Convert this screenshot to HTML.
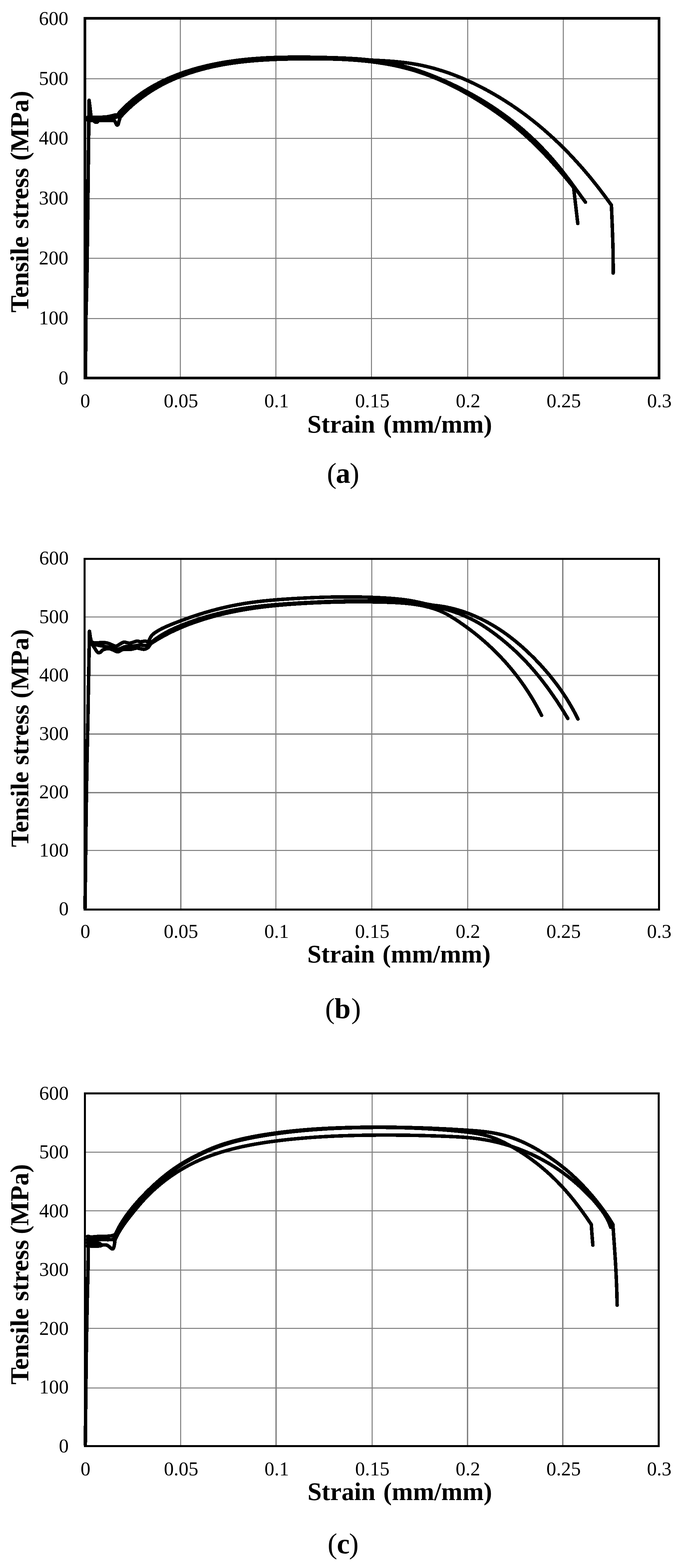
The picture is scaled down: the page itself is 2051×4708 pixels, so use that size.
<!DOCTYPE html>
<html lang="en"><head><meta charset="utf-8"><title>Tensile stress-strain curves</title>
<style>html,body{margin:0;padding:0;background:#fff}body{width:2051px;height:4708px;overflow:hidden}svg{display:block}text{font-family:"Liberation Serif", "Times New Roman", Times, serif;fill:#000}.t{font-size:59px}.b{font-weight:bold;font-size:78px}.g{stroke:#808080;fill:none;shape-rendering:crispEdges}.f{stroke:#000;fill:none;shape-rendering:crispEdges}.c{stroke:#000;fill:none;stroke-linejoin:round;stroke-linecap:round;shape-rendering:crispEdges}</style></head><body>
<svg width="2051" height="4708" viewBox="0 0 2051 4708">
<rect width="2051" height="4708" fill="#fff"/>
<g>
<path class="g" stroke-width="3" d="M541.5 55.0V1135.0M828.5 55.0V1135.0M1115.5 55.0V1135.0M1404.5 55.0V1135.0M1691.5 55.0V1135.0M255.0 236.5H1979.0M255.0 415.5H1979.0M255.0 596.5H1979.0M255.0 775.5H1979.0M255.0 956.5H1979.0"/>
<path class="c" stroke-width="10.5" d="M256.6 1131.0L258.2 949.0L261.1 831.0L262.9 690.0L264.7 544.0L267.5 301.0L270.0 320.0L273.5 352.0"/>
<path class="c" stroke-width="7" d="M263.0 560.0L264.5 420.0L265.8 304.0"/>
<path class="c" stroke-width="10.5" d="M264.0 352.0C270.0 352.0 290.7 352.2 300.0 352.0C309.3 351.8 314.2 351.7 320.0 351.0C325.8 350.3 330.8 348.9 335.0 348.0C339.2 347.1 342.2 346.0 345.0 345.5C347.8 345.0 350.8 345.1 352.0 345.0"/>
<path class="c" stroke-width="10.5" d="M264.0 357.0C270.0 357.0 289.0 357.2 300.0 357.0C311.0 356.8 322.5 356.2 330.0 355.5C337.5 354.8 341.0 353.9 345.0 353.0C349.0 352.1 352.5 350.5 354.0 350.0"/>
<path class="c" stroke-width="10.5" d="M264.0 361.5C266.7 361.6 276.3 361.2 280.0 362.0C283.7 362.8 284.0 365.8 286.0 366.5C288.0 367.2 290.0 367.2 292.0 366.5C294.0 365.8 293.3 362.8 298.0 362.0C302.7 361.2 313.8 362.1 320.0 362.0C326.2 361.9 331.2 361.5 335.0 361.5C338.8 361.5 341.0 360.9 343.0 362.0C345.0 363.1 345.8 366.0 347.0 368.0C348.2 370.0 349.1 372.8 350.0 374.0C350.9 375.2 351.7 375.7 352.5 375.5C353.3 375.3 354.1 375.2 355.0 373.0C355.9 370.8 357.0 365.5 358.0 362.0C359.0 358.5 360.5 353.7 361.0 352.0"/>
<path class="c" stroke-width="10.5" d="M356.5 340.0C359.0 337.4 366.4 329.3 371.6 324.1C376.8 319.0 382.2 314.0 387.7 309.1C393.2 304.3 398.9 299.6 404.7 295.0C410.5 290.5 416.5 286.1 422.6 281.8C428.6 277.6 434.8 273.4 441.1 269.5C447.4 265.5 453.8 261.7 460.2 258.1C466.7 254.4 473.2 250.9 479.9 247.6C486.5 244.2 493.1 241.0 499.9 237.9C506.6 234.8 513.4 231.9 520.2 229.1C527.1 226.3 534.0 223.6 540.9 221.1C547.9 218.6 554.8 216.1 561.9 213.9C568.9 211.6 575.9 209.4 583.0 207.3C590.1 205.3 597.2 203.3 604.4 201.5C611.5 199.6 618.7 197.9 625.9 196.3C633.1 194.6 640.3 193.1 647.5 191.7C654.7 190.2 662.0 188.9 669.2 187.7C676.5 186.4 683.8 185.2 691.1 184.2C698.4 183.1 705.7 182.1 713.0 181.2C720.3 180.3 727.7 179.4 735.0 178.7C742.4 177.9 749.7 177.2 757.1 176.6C764.5 176.0 771.9 175.4 779.3 174.9C786.7 174.4 794.1 174.0 801.5 173.6C808.9 173.3 816.3 173.0 823.7 172.7C831.1 172.4 838.6 172.2 846.0 172.0C853.4 171.9 860.9 171.8 868.3 171.7C875.8 171.6 883.2 171.5 890.7 171.5C898.1 171.5 905.5 171.5 913.0 171.6C920.4 171.6 927.9 171.7 935.3 171.8C942.8 171.9 950.2 172.1 957.6 172.2C965.1 172.4 972.5 172.5 979.9 172.7C987.4 172.9 994.8 173.1 1002.2 173.3C1009.6 173.5 1017.0 173.8 1024.4 174.1C1031.8 174.4 1039.2 174.7 1046.6 175.1C1053.9 175.5 1061.3 175.9 1068.7 176.4C1076.0 176.9 1083.4 177.5 1090.7 178.2C1098.0 178.8 1105.3 179.5 1112.6 180.4C1119.9 181.2 1127.2 182.1 1134.5 183.1C1141.7 184.1 1149.0 185.2 1156.2 186.5C1163.5 187.7 1170.7 189.0 1177.9 190.5C1185.0 192.0 1192.2 193.6 1199.4 195.3C1206.5 197.0 1213.6 198.9 1220.7 200.9C1227.8 202.9 1234.9 205.0 1242.0 207.2C1249.0 209.4 1256.0 211.8 1263.0 214.2C1270.0 216.6 1277.0 219.2 1284.0 221.8C1290.9 224.4 1297.8 227.1 1304.7 229.9C1311.6 232.7 1318.4 235.6 1325.3 238.5C1332.1 241.5 1338.9 244.5 1345.6 247.6C1352.4 250.6 1359.1 253.8 1365.8 257.0C1372.5 260.2 1379.1 263.5 1385.7 266.9C1392.3 270.3 1398.9 273.7 1405.4 277.2C1412.0 280.7 1418.5 284.3 1424.9 288.0C1431.3 291.6 1437.8 295.3 1444.1 299.1C1450.5 302.9 1456.8 306.8 1463.0 310.7C1469.3 314.7 1475.5 318.7 1481.7 322.8C1487.8 326.9 1493.9 331.0 1500.0 335.3C1506.1 339.5 1512.1 343.8 1518.0 348.2C1524.0 352.6 1529.9 357.0 1535.7 361.5C1541.6 366.1 1547.3 370.6 1553.1 375.3C1558.8 380.0 1564.5 384.7 1570.1 389.5C1575.7 394.4 1581.2 399.2 1586.7 404.2C1592.2 409.2 1597.6 414.2 1602.9 419.3C1608.3 424.4 1613.6 429.6 1618.8 434.8C1624.0 440.1 1629.1 445.4 1634.2 450.8C1639.3 456.2 1644.3 461.6 1649.3 467.1C1654.2 472.6 1659.1 478.2 1663.9 483.8C1668.7 489.4 1673.5 495.1 1678.2 500.8C1682.9 506.5 1687.5 512.3 1692.0 518.1C1696.6 523.9 1701.1 529.7 1705.5 535.6C1710.0 541.4 1714.3 547.3 1718.7 553.2C1723.1 559.2 1727.4 565.1 1731.8 571.1C1736.1 577.0 1740.5 583.0 1744.8 589.0C1749.2 595.0 1755.8 604.0 1758.0 607.0"/>
<path class="c" stroke-width="10.5" d="M357.0 342.0C359.7 339.6 367.8 332.2 373.3 327.4C378.8 322.7 384.5 317.9 390.2 313.3C395.9 308.7 401.6 304.2 407.5 299.7C413.4 295.3 419.3 291.0 425.4 286.7C431.4 282.5 437.5 278.4 443.7 274.4C449.9 270.4 456.2 266.6 462.5 262.9C468.9 259.1 475.3 255.6 481.9 252.1C488.4 248.7 495.0 245.4 501.6 242.2C508.3 239.1 515.0 236.1 521.8 233.2C528.6 230.3 535.4 227.6 542.3 224.9C549.2 222.3 556.1 219.8 563.1 217.5C570.0 215.1 577.0 212.9 584.1 210.7C591.1 208.6 598.2 206.6 605.3 204.7C612.3 202.8 619.4 201.1 626.5 199.4C633.7 197.7 640.8 196.2 647.9 194.7C655.1 193.3 662.3 191.9 669.4 190.6C676.6 189.4 683.8 188.2 691.0 187.2C698.2 186.1 705.4 185.1 712.7 184.2C719.9 183.3 727.2 182.5 734.4 181.7C741.7 181.0 749.0 180.3 756.3 179.7C763.5 179.1 770.8 178.5 778.1 178.1C785.5 177.6 792.8 177.2 800.1 176.8C807.4 176.5 814.8 176.2 822.1 175.9C829.5 175.7 836.8 175.5 844.2 175.3C851.6 175.1 858.9 175.0 866.3 174.9C873.7 174.8 881.1 174.8 888.5 174.8C895.9 174.7 903.3 174.7 910.7 174.8C918.1 174.8 925.5 174.9 932.9 174.9C940.3 175.0 947.8 175.1 955.2 175.2C962.6 175.3 970.0 175.5 977.5 175.6C984.9 175.8 992.3 176.0 999.7 176.1C1007.2 176.3 1014.6 176.5 1022.0 176.8C1029.4 177.0 1036.8 177.3 1044.2 177.5C1051.6 177.8 1059.0 178.1 1066.4 178.3C1073.8 178.6 1081.2 178.9 1088.6 179.3C1096.0 179.6 1103.3 179.9 1110.7 180.3C1118.1 180.6 1125.4 181.0 1132.7 181.4C1140.1 181.7 1147.4 182.1 1154.7 182.6C1162.0 183.1 1169.3 183.5 1176.6 184.1C1183.9 184.7 1191.1 185.3 1198.4 186.1C1205.6 186.8 1212.8 187.6 1220.0 188.6C1227.2 189.5 1234.4 190.5 1241.6 191.7C1248.7 192.9 1255.9 194.2 1263.0 195.6C1270.1 197.1 1277.2 198.7 1284.3 200.4C1291.3 202.1 1298.4 203.9 1305.4 205.9C1312.4 207.9 1319.4 210.0 1326.3 212.2C1333.3 214.4 1340.2 216.7 1347.1 219.1C1354.0 221.6 1360.9 224.1 1367.7 226.8C1374.5 229.4 1381.3 232.2 1388.1 235.0C1394.9 237.9 1401.6 240.9 1408.3 243.9C1415.0 247.0 1421.6 250.1 1428.3 253.3C1434.9 256.6 1441.5 259.9 1448.0 263.3C1454.6 266.7 1461.1 270.2 1467.5 273.7C1474.0 277.3 1480.4 280.9 1486.8 284.7C1493.2 288.4 1499.5 292.2 1505.8 296.0C1512.1 299.9 1518.3 303.9 1524.5 307.9C1530.7 311.9 1536.9 316.0 1543.0 320.2C1549.1 324.3 1555.1 328.5 1561.1 332.8C1567.1 337.1 1573.1 341.5 1579.0 345.9C1584.9 350.3 1590.7 354.8 1596.5 359.4C1602.3 363.9 1608.1 368.5 1613.8 373.2C1619.4 377.8 1625.1 382.6 1630.7 387.3C1636.2 392.1 1641.7 396.9 1647.2 401.8C1652.7 406.7 1658.1 411.6 1663.5 416.6C1668.8 421.6 1674.1 426.6 1679.4 431.7C1684.6 436.8 1689.8 441.9 1695.0 447.1C1700.2 452.3 1705.3 457.5 1710.3 462.8C1715.4 468.1 1720.4 473.4 1725.3 478.8C1730.3 484.2 1735.2 489.6 1740.1 495.1C1745.0 500.5 1749.8 506.0 1754.6 511.6C1759.3 517.2 1764.1 522.8 1768.8 528.4C1773.5 534.0 1778.1 539.7 1782.7 545.4C1787.3 551.2 1791.9 556.9 1796.4 562.7C1800.9 568.5 1805.4 574.4 1809.8 580.3C1814.3 586.1 1818.7 592.1 1823.0 598.0C1827.4 604.0 1833.8 613.0 1836.0 616.0C1836.5 627.5 1838.0 661.6 1838.8 685.0C1839.6 708.4 1840.6 734.0 1841.0 756.5C1841.4 779.0 1841.2 809.4 1841.3 820.0"/>
<path class="c" stroke-width="10.5" d="M361.0 352.0C363.6 349.3 371.1 341.1 376.3 335.8C381.6 330.5 386.9 325.4 392.4 320.4C397.9 315.4 403.6 310.6 409.3 305.9C415.0 301.2 420.9 296.6 426.8 292.2C432.8 287.8 438.9 283.5 445.0 279.3C451.2 275.2 457.4 271.2 463.8 267.4C470.1 263.6 476.5 259.9 483.0 256.4C489.5 252.9 496.1 249.5 502.8 246.3C509.4 243.1 516.2 240.0 523.0 237.0C529.7 234.1 536.6 231.3 543.5 228.6C550.4 226.0 557.3 223.4 564.3 221.0C571.3 218.6 578.4 216.4 585.4 214.2C592.5 212.0 599.6 210.0 606.8 208.1C613.9 206.2 621.1 204.4 628.2 202.7C635.4 201.0 642.6 199.4 649.9 197.9C657.1 196.5 664.3 195.1 671.6 193.8C678.9 192.5 686.2 191.3 693.5 190.2C700.8 189.1 708.1 188.1 715.4 187.2C722.8 186.3 730.1 185.4 737.5 184.6C744.9 183.9 752.3 183.2 759.7 182.5C767.1 181.9 774.5 181.3 781.9 180.8C789.3 180.3 796.8 179.9 804.2 179.5C811.6 179.1 819.1 178.7 826.5 178.4C834.0 178.1 841.5 177.9 848.9 177.6C856.4 177.4 863.9 177.3 871.3 177.1C878.8 177.0 886.3 176.8 893.8 176.7C901.2 176.6 908.7 176.6 916.2 176.5C923.7 176.5 931.2 176.4 938.6 176.4C946.1 176.5 953.6 176.5 961.0 176.5C968.5 176.6 976.0 176.7 983.4 176.9C990.9 177.0 998.3 177.2 1005.8 177.4C1013.2 177.7 1020.7 178.0 1028.1 178.3C1035.5 178.7 1042.9 179.1 1050.3 179.5C1057.7 180.0 1065.1 180.5 1072.5 181.1C1079.9 181.7 1087.2 182.4 1094.6 183.1C1101.9 183.9 1109.3 184.7 1116.6 185.6C1123.9 186.5 1131.2 187.5 1138.5 188.6C1145.7 189.6 1153.0 190.8 1160.2 192.1C1167.5 193.3 1174.7 194.7 1181.9 196.2C1189.1 197.6 1196.2 199.2 1203.4 200.9C1210.5 202.6 1217.6 204.3 1224.7 206.3C1231.8 208.2 1238.9 210.2 1245.9 212.3C1252.9 214.5 1259.9 216.8 1266.9 219.1C1273.9 221.5 1280.8 224.1 1287.8 226.7C1294.7 229.3 1301.5 232.0 1308.4 234.9C1315.2 237.7 1322.0 240.6 1328.8 243.7C1335.6 246.7 1342.3 249.8 1349.0 253.0C1355.7 256.3 1362.4 259.6 1369.0 263.0C1375.7 266.4 1382.2 269.9 1388.8 273.6C1395.3 277.2 1401.8 280.9 1408.3 284.6C1414.8 288.4 1421.2 292.3 1427.6 296.1C1433.9 300.0 1440.3 304.0 1446.6 307.9C1452.8 311.9 1459.1 315.9 1465.3 320.0C1471.5 324.1 1477.6 328.2 1483.7 332.4C1489.8 336.6 1495.8 340.9 1501.8 345.2C1507.8 349.5 1513.8 353.9 1519.7 358.4C1525.5 362.9 1531.4 367.4 1537.2 372.0C1542.9 376.7 1548.7 381.4 1554.3 386.2C1560.0 391.0 1565.6 395.8 1571.2 400.7C1576.7 405.7 1582.2 410.7 1587.7 415.7C1593.1 420.7 1598.5 425.8 1603.8 431.0C1609.1 436.1 1614.4 441.3 1619.6 446.6C1624.8 451.8 1630.0 457.1 1635.1 462.5C1640.2 467.8 1645.3 473.2 1650.3 478.6C1655.3 484.1 1660.3 489.6 1665.2 495.1C1670.1 500.6 1675.0 506.1 1679.8 511.7C1684.7 517.3 1689.5 523.0 1694.3 528.6C1699.0 534.3 1703.8 540.0 1708.5 545.7C1713.2 551.4 1720.2 560.1 1722.5 563.0L1735.0 671.0"/>
<rect class="f" x="255.0" y="55.0" width="1724.0" height="1080.0" stroke-width="8"/>
<text class="t" x="205.2" y="74.7" text-anchor="end">600</text>
<text class="t" x="205.2" y="254.5" text-anchor="end">500</text>
<text class="t" x="205.2" y="434.3" text-anchor="end">400</text>
<text class="t" x="205.2" y="614.1" text-anchor="end">300</text>
<text class="t" x="205.2" y="793.9" text-anchor="end">200</text>
<text class="t" x="205.2" y="973.7" text-anchor="end">100</text>
<text class="t" x="205.2" y="1153.5" text-anchor="end">0</text>
<text class="t" x="256.0" y="1222.8" text-anchor="middle">0</text>
<text class="t" x="543.4" y="1222.8" text-anchor="middle">0.05</text>
<text class="t" x="830.7" y="1222.8" text-anchor="middle">0.1</text>
<text class="t" x="1118.1" y="1222.8" text-anchor="middle">0.15</text>
<text class="t" x="1405.5" y="1222.8" text-anchor="middle">0.2</text>
<text class="t" x="1692.8" y="1222.8" text-anchor="middle">0.25</text>
<text class="t" x="1980.2" y="1222.8" text-anchor="middle">0.3</text>
<text class="b" y="1299.4" style="font-size:76.4px"><tspan x="922.8">Strain </tspan><tspan x="1151.1">(mm/mm)</tspan></text>
<text class="b" transform="translate(84.5 0) rotate(-90)" y="0" style="font-size:77.2px"><tspan x="-938.5">Tensile </tspan><tspan x="-687.1">stress </tspan><tspan x="-482.6">(MPa)</tspan></text>
<text y="1450.1" style="font-size:87px"><tspan x="981.7">(</tspan><tspan x="1008.6" style="font-weight:bold">a</tspan><tspan x="1050.0">)</tspan></text>
</g>
<g>
<path class="g" stroke-width="3" d="M828.5 1677.5V2731.0M1116.5 1677.5V2731.0M1404.5 1677.5V2731.0M254.0 1852.5H1979.0M254.0 2553.5H1979.0"/>
<path class="g" stroke-width="4" d="M543.0 1677.5V2731.0M1690.0 1677.5V2731.0M254.0 2028.0H1979.0M254.0 2204.0H1979.0M254.0 2380.0H1979.0"/>
<path class="c" stroke-width="10.5" d="M255.3 2727.0L257.0 2590.0L258.7 2445.0L260.8 2310.0L263.8 2170.0L265.9 2050.0L268.7 1895.5L271.0 1912.0L274.0 1926.0"/>
<path class="c" stroke-width="10.5" d="M270.0 1925.0C272.1 1925.8 274.6 1929.2 282.8 1930.0C291.0 1930.8 308.3 1928.3 319.0 1930.0C329.7 1931.7 340.2 1939.3 347.0 1940.0C353.8 1940.7 355.7 1936.0 360.0 1934.0C364.3 1932.0 367.7 1928.5 372.6 1928.0C377.6 1927.5 383.3 1931.5 389.7 1931.0C396.1 1930.5 405.6 1925.7 411.0 1925.0C416.4 1924.3 417.5 1927.0 421.8 1927.0C426.1 1927.0 433.3 1924.8 436.8 1925.0C440.3 1925.2 441.6 1927.7 443.0 1928.0C444.4 1928.3 445.1 1927.2 445.5 1927.0"/>
<path class="c" stroke-width="10.5" d="M270.0 1925.0C272.2 1928.2 279.1 1938.3 283.0 1944.0C286.9 1949.7 290.3 1956.7 293.5 1959.0C296.7 1961.3 299.1 1959.4 302.0 1958.0C304.9 1956.6 305.9 1952.2 310.6 1950.5C315.3 1948.8 322.9 1946.9 330.0 1948.0C337.1 1949.1 346.7 1956.6 353.0 1957.0C359.3 1957.4 361.2 1951.8 368.0 1950.5C374.8 1949.2 386.8 1950.2 394.0 1949.5C401.2 1948.8 404.6 1946.0 411.0 1946.0C417.4 1946.0 426.8 1949.8 432.5 1949.5C438.2 1949.2 441.7 1946.8 445.0 1944.0C448.3 1941.2 451.1 1934.8 452.3 1933.0"/>
<path class="c" stroke-width="10.5" d="M270.0 1925.0C272.5 1926.7 278.3 1932.5 285.0 1935.0C291.7 1937.5 301.7 1938.3 310.0 1940.0C318.3 1941.7 327.8 1943.3 335.0 1945.0C342.2 1946.7 346.3 1950.5 353.0 1950.0C359.7 1949.5 367.2 1943.7 375.0 1942.0C382.8 1940.3 392.5 1940.8 400.0 1940.0C407.5 1939.2 413.3 1937.3 420.0 1937.0C426.7 1936.7 434.6 1939.2 440.0 1938.0C445.4 1936.8 450.2 1931.3 452.3 1930.0"/>
<path class="c" stroke-width="10.5" d="M445.5 1927.0C447.2 1923.8 451.4 1913.0 455.9 1907.7C460.4 1902.4 466.5 1898.9 472.5 1895.1C478.4 1891.3 485.1 1888.0 491.7 1884.8C498.3 1881.6 505.4 1878.7 512.3 1875.8C519.3 1873.0 526.4 1870.2 533.4 1867.5C540.4 1864.8 547.4 1862.2 554.4 1859.7C561.4 1857.1 568.4 1854.6 575.5 1852.2C582.5 1849.8 589.6 1847.5 596.6 1845.2C603.7 1843.0 610.7 1840.8 617.8 1838.7C624.9 1836.6 632.0 1834.6 639.1 1832.6C646.3 1830.7 653.4 1828.9 660.6 1827.1C667.7 1825.3 674.9 1823.6 682.1 1822.0C689.3 1820.4 696.5 1818.9 703.8 1817.5C711.0 1816.1 718.2 1814.7 725.5 1813.5C732.7 1812.2 740.0 1811.1 747.3 1810.0C754.6 1808.9 761.9 1808.0 769.2 1807.1C776.5 1806.1 783.8 1805.3 791.2 1804.5C798.5 1803.8 805.9 1803.0 813.2 1802.4C820.6 1801.7 827.9 1801.1 835.3 1800.5C842.7 1800.0 850.1 1799.4 857.5 1798.9C864.8 1798.4 872.2 1798.0 879.6 1797.5C887.0 1797.0 894.4 1796.6 901.9 1796.2C909.3 1795.8 916.7 1795.4 924.1 1795.1C931.5 1794.8 938.9 1794.4 946.4 1794.2C953.8 1793.9 961.2 1793.6 968.6 1793.4C976.1 1793.2 983.5 1793.0 990.9 1792.8C998.3 1792.7 1005.8 1792.5 1013.2 1792.4C1020.6 1792.4 1028.0 1792.3 1035.5 1792.3C1042.9 1792.3 1050.3 1792.3 1057.7 1792.3C1065.1 1792.4 1072.5 1792.5 1079.9 1792.6C1087.3 1792.8 1094.7 1792.9 1102.1 1793.2C1109.5 1793.4 1116.9 1793.6 1124.3 1793.9C1131.7 1794.3 1139.0 1794.6 1146.4 1795.0C1153.8 1795.4 1161.1 1795.8 1168.4 1796.3C1175.8 1796.8 1183.1 1797.4 1190.4 1798.1C1197.8 1798.8 1205.1 1799.5 1212.4 1800.5C1219.7 1801.4 1227.0 1802.4 1234.3 1803.7C1241.6 1805.0 1248.9 1806.5 1256.2 1808.1C1263.4 1809.6 1270.7 1811.5 1278.0 1813.0C1285.3 1814.5 1292.5 1815.9 1299.8 1817.1C1307.1 1818.2 1314.3 1818.7 1321.6 1819.8C1328.8 1820.8 1336.1 1822.0 1343.3 1823.5C1350.5 1825.0 1357.8 1826.7 1364.9 1828.6C1372.1 1830.5 1379.2 1832.6 1386.3 1834.9C1393.4 1837.2 1400.4 1839.7 1407.4 1842.3C1414.3 1845.0 1421.2 1847.8 1428.0 1850.8C1434.8 1853.8 1441.5 1857.0 1448.1 1860.3C1454.8 1863.5 1461.3 1867.0 1467.7 1870.6C1474.2 1874.1 1480.6 1877.8 1486.8 1881.7C1493.1 1885.5 1499.3 1889.5 1505.4 1893.6C1511.5 1897.7 1517.6 1902.0 1523.5 1906.3C1529.5 1910.7 1535.3 1915.2 1541.1 1919.8C1546.9 1924.3 1552.6 1929.0 1558.2 1933.8C1563.9 1938.6 1569.4 1943.5 1574.9 1948.5C1580.4 1953.4 1585.8 1958.5 1591.1 1963.7C1596.4 1968.8 1601.7 1974.0 1606.9 1979.3C1612.0 1984.6 1617.1 1990.0 1622.2 1995.4C1627.2 2000.9 1632.1 2006.4 1637.0 2012.0C1641.9 2017.5 1646.7 2023.2 1651.4 2028.9C1656.1 2034.6 1660.7 2040.4 1665.2 2046.3C1669.7 2052.1 1674.2 2058.0 1678.5 2064.0C1682.8 2070.0 1687.1 2076.1 1691.2 2082.2C1695.3 2088.3 1699.4 2094.5 1703.3 2100.8C1707.2 2107.1 1711.0 2113.4 1714.7 2119.8C1718.4 2126.2 1722.0 2132.7 1725.5 2139.2C1728.9 2145.7 1733.8 2155.7 1735.5 2159.0"/>
<path class="c" stroke-width="10.5" d="M452.3 1933.0C455.4 1931.0 464.8 1925.0 471.1 1921.1C477.5 1917.3 484.0 1913.6 490.5 1910.0C497.0 1906.5 503.6 1903.1 510.2 1899.7C516.9 1896.4 523.6 1893.2 530.3 1890.2C537.1 1887.1 544.0 1884.1 550.8 1881.3C557.7 1878.5 564.7 1875.7 571.6 1873.1C578.6 1870.5 585.6 1868.0 592.7 1865.6C599.7 1863.2 606.9 1860.9 614.0 1858.7C621.1 1856.5 628.3 1854.4 635.5 1852.4C642.6 1850.4 649.9 1848.5 657.1 1846.6C664.3 1844.8 671.6 1843.1 678.8 1841.4C686.1 1839.8 693.3 1838.2 700.6 1836.8C707.9 1835.3 715.2 1833.9 722.5 1832.6C729.8 1831.2 737.1 1830.0 744.4 1828.8C751.7 1827.7 759.0 1826.5 766.4 1825.5C773.7 1824.5 781.0 1823.5 788.4 1822.6C795.7 1821.6 803.1 1820.8 810.5 1820.0C817.8 1819.2 825.2 1818.4 832.6 1817.7C840.0 1817.0 847.4 1816.4 854.8 1815.8C862.2 1815.1 869.6 1814.6 877.0 1814.0C884.4 1813.5 891.8 1813.0 899.2 1812.6C906.6 1812.1 914.0 1811.7 921.5 1811.3C928.9 1810.9 936.3 1810.5 943.8 1810.1C951.2 1809.8 958.7 1809.5 966.1 1809.2C973.6 1808.9 981.0 1808.6 988.5 1808.4C995.9 1808.1 1003.4 1807.9 1010.8 1807.7C1018.3 1807.6 1025.8 1807.4 1033.2 1807.3C1040.7 1807.2 1048.2 1807.1 1055.6 1807.0C1063.1 1807.0 1070.6 1806.9 1078.0 1806.9C1085.5 1806.9 1093.0 1807.0 1100.5 1807.0C1107.9 1807.1 1115.4 1807.2 1122.9 1807.3C1130.4 1807.4 1137.9 1807.6 1145.3 1807.8C1152.8 1808.0 1160.3 1808.2 1167.8 1808.4C1175.2 1808.7 1182.7 1809.0 1190.1 1809.4C1197.6 1809.9 1205.0 1810.3 1212.4 1810.9C1219.8 1811.6 1227.1 1812.3 1234.5 1813.2C1241.8 1814.1 1249.0 1815.1 1256.2 1816.4C1263.4 1817.6 1270.6 1819.0 1277.7 1820.7C1284.8 1822.3 1291.8 1824.1 1298.7 1826.3C1305.6 1828.4 1312.5 1830.8 1319.2 1833.5C1326.0 1836.3 1332.7 1839.4 1339.3 1842.8C1345.9 1846.3 1352.4 1850.3 1358.8 1854.2C1365.3 1858.2 1371.6 1862.5 1377.9 1866.7C1384.2 1870.9 1390.4 1875.3 1396.5 1879.6C1402.6 1884.0 1408.7 1888.5 1414.6 1893.1C1420.6 1897.6 1426.5 1902.2 1432.3 1906.9C1438.1 1911.6 1443.8 1916.4 1449.4 1921.3C1455.1 1926.1 1460.6 1931.1 1466.1 1936.1C1471.6 1941.1 1477.0 1946.2 1482.3 1951.3C1487.6 1956.5 1492.9 1961.7 1498.0 1967.0C1503.1 1972.3 1508.2 1977.7 1513.2 1983.1C1518.2 1988.6 1523.0 1994.1 1527.9 1999.7C1532.7 2005.3 1537.4 2011.0 1542.0 2016.7C1546.6 2022.5 1551.2 2028.3 1555.7 2034.2C1560.1 2040.1 1564.5 2046.1 1568.8 2052.1C1573.1 2058.1 1577.3 2064.2 1581.4 2070.4C1585.5 2076.6 1589.5 2082.9 1593.4 2089.2C1597.3 2095.5 1601.2 2101.9 1604.9 2108.4C1608.7 2114.8 1612.3 2121.4 1615.9 2128.0C1619.4 2134.6 1624.6 2144.7 1626.3 2148.0"/>
<path class="c" stroke-width="10.5" d="M452.3 1930.0C455.3 1927.7 464.2 1920.7 470.3 1916.4C476.4 1912.2 482.6 1908.2 488.9 1904.5C495.2 1900.8 501.6 1897.3 508.1 1894.0C514.6 1890.7 521.2 1887.7 527.9 1884.7C534.5 1881.8 541.2 1879.0 548.0 1876.3C554.8 1873.6 561.7 1871.1 568.6 1868.6C575.5 1866.1 582.5 1863.6 589.5 1861.3C596.6 1859.0 603.6 1856.7 610.7 1854.6C617.8 1852.4 625.0 1850.3 632.2 1848.3C639.3 1846.3 646.5 1844.4 653.7 1842.6C660.9 1840.8 668.2 1839.1 675.4 1837.5C682.6 1835.9 689.9 1834.3 697.1 1832.9C704.4 1831.5 711.6 1830.2 718.9 1828.9C726.1 1827.6 733.4 1826.5 740.7 1825.4C747.9 1824.3 755.2 1823.3 762.5 1822.3C769.7 1821.4 777.0 1820.5 784.3 1819.7C791.6 1818.8 798.9 1818.1 806.1 1817.4C813.4 1816.7 820.7 1816.0 828.0 1815.4C835.3 1814.8 842.6 1814.2 849.9 1813.7C857.2 1813.1 864.5 1812.6 871.9 1812.2C879.2 1811.7 886.5 1811.2 893.8 1810.8C901.1 1810.4 908.5 1810.0 915.8 1809.6C923.1 1809.2 930.5 1808.8 937.8 1808.5C945.2 1808.1 952.5 1807.7 959.8 1807.4C967.2 1807.1 974.5 1806.7 981.9 1806.4C989.3 1806.1 996.6 1805.9 1004.0 1805.6C1011.4 1805.4 1018.7 1805.1 1026.1 1804.9C1033.5 1804.7 1040.9 1804.6 1048.2 1804.4C1055.6 1804.3 1063.0 1804.2 1070.4 1804.1C1077.8 1804.1 1085.2 1804.0 1092.6 1804.0C1100.0 1804.0 1107.4 1804.1 1114.8 1804.2C1122.2 1804.3 1129.6 1804.4 1137.0 1804.6C1144.5 1804.8 1151.9 1805.0 1159.3 1805.3C1166.7 1805.6 1174.2 1805.9 1181.6 1806.3C1189.0 1806.7 1196.4 1807.2 1203.8 1807.7C1211.2 1808.2 1218.6 1808.9 1226.0 1809.6C1233.4 1810.3 1240.8 1811.1 1248.1 1812.0C1255.4 1812.9 1262.8 1813.9 1270.0 1815.0C1277.3 1816.1 1284.6 1817.3 1291.8 1818.7C1299.0 1820.0 1306.2 1821.5 1313.3 1823.1C1320.5 1824.8 1327.6 1826.5 1334.6 1828.4C1341.6 1830.3 1348.6 1832.4 1355.6 1834.6C1362.5 1836.8 1369.4 1839.2 1376.2 1841.7C1383.0 1844.3 1389.8 1847.0 1396.4 1849.9C1403.1 1852.8 1409.7 1855.9 1416.2 1859.2C1422.8 1862.4 1429.2 1865.9 1435.6 1869.6C1442.0 1873.3 1448.3 1877.2 1454.5 1881.2C1460.7 1885.2 1466.8 1889.5 1472.9 1893.8C1478.9 1898.1 1484.9 1902.5 1490.8 1907.0C1496.7 1911.5 1502.5 1916.1 1508.2 1920.7C1513.9 1925.4 1519.6 1930.1 1525.2 1934.9C1530.7 1939.7 1536.2 1944.5 1541.7 1949.5C1547.1 1954.5 1552.4 1959.5 1557.7 1964.6C1563.0 1969.7 1568.2 1974.9 1573.3 1980.2C1578.4 1985.5 1583.5 1990.9 1588.4 1996.4C1593.4 2001.8 1598.3 2007.4 1603.1 2013.0C1608.0 2018.7 1612.7 2024.4 1617.4 2030.1C1622.1 2035.9 1626.7 2041.7 1631.2 2047.6C1635.7 2053.5 1640.2 2059.4 1644.6 2065.4C1649.0 2071.4 1653.3 2077.5 1657.5 2083.5C1661.8 2089.6 1666.0 2095.7 1670.1 2101.8C1674.2 2107.9 1678.2 2114.1 1682.2 2120.3C1686.2 2126.4 1690.1 2132.6 1693.9 2138.8C1697.7 2145.0 1703.3 2154.3 1705.2 2157.4"/>
<rect class="f" x="254.0" y="1677.5" width="1725.0" height="1053.5" stroke-width="6"/>
<text class="t" x="206.2" y="1695.4" text-anchor="end">600</text>
<text class="t" x="206.2" y="1870.8" text-anchor="end">500</text>
<text class="t" x="206.2" y="2046.2" text-anchor="end">400</text>
<text class="t" x="206.2" y="2221.6" text-anchor="end">300</text>
<text class="t" x="206.2" y="2397.0" text-anchor="end">200</text>
<text class="t" x="206.2" y="2572.4" text-anchor="end">100</text>
<text class="t" x="206.2" y="2747.8" text-anchor="end">0</text>
<text class="t" x="256.2" y="2815.5" text-anchor="middle">0</text>
<text class="t" x="543.4" y="2815.5" text-anchor="middle">0.05</text>
<text class="t" x="830.6" y="2815.5" text-anchor="middle">0.1</text>
<text class="t" x="1117.8" y="2815.5" text-anchor="middle">0.15</text>
<text class="t" x="1405.1" y="2815.5" text-anchor="middle">0.2</text>
<text class="t" x="1692.3" y="2815.5" text-anchor="middle">0.25</text>
<text class="t" x="1979.5" y="2815.5" text-anchor="middle">0.3</text>
<text class="b" y="2889.6" style="font-size:76.0px"><tspan x="922.8">Strain </tspan><tspan x="1148.4">(mm/mm)</tspan></text>
<text class="b" transform="translate(84.5 0) rotate(-90)" y="0" style="font-size:76.5px"><tspan x="-2543.6">Tensile </tspan><tspan x="-2297.0">stress </tspan><tspan x="-2097.0">(MPa)</tspan></text>
<text y="3056.8" style="font-size:87px"><tspan x="976.2">(</tspan><tspan x="1004.6" style="font-weight:bold">b</tspan><tspan x="1054.8">)</tspan></text>
</g>
<g>
<path class="g" stroke-width="3" d="M542.5 3283.0V4342.0M1117.5 3283.0V4342.0M255.0 3459.5H1978.0M255.0 3635.5H1978.0M255.0 3813.5H1978.0M255.0 3988.5H1978.0M255.0 4167.5H1978.0"/>
<path class="g" stroke-width="4" d="M829.0 3283.0V4342.0M1404.0 3283.0V4342.0M1690.0 3283.0V4342.0"/>
<path class="c" stroke-width="10.5" d="M256.2 4338.0L257.8 4177.0L259.6 4033.0L262.2 3900.0L264.7 3795.0L265.3 3712.0"/>
<path class="c" stroke-width="10.5" d="M262.0 3712.7C264.2 3712.9 269.5 3714.0 275.0 3714.0C280.5 3714.0 287.5 3712.8 295.0 3712.5C302.5 3712.2 313.3 3712.3 320.0 3712.0C326.7 3711.7 331.2 3711.2 335.0 3710.5C338.8 3709.8 341.7 3708.4 343.0 3708.0"/>
<path class="c" stroke-width="10.5" d="M262.0 3722.0C268.3 3722.0 287.8 3722.0 300.0 3722.0C312.2 3722.0 327.8 3722.7 335.0 3722.0C342.2 3721.3 341.7 3718.7 343.0 3718.0"/>
<path class="c" stroke-width="10.5" d="M262.0 3731.0C265.8 3731.2 279.0 3731.7 285.0 3732.0C291.0 3732.3 294.7 3732.0 298.0 3733.0C301.3 3734.0 303.8 3737.2 305.0 3738.0"/>
<path class="c" stroke-width="10.5" d="M262.0 3741.0C265.8 3741.1 278.7 3741.5 285.0 3741.5C291.3 3741.5 295.8 3741.6 300.0 3741.0C304.2 3740.4 306.3 3738.3 310.0 3738.0C313.7 3737.7 318.7 3737.8 322.0 3739.0C325.3 3740.2 327.5 3743.2 330.0 3745.0C332.5 3746.8 335.2 3749.7 337.0 3750.0C338.8 3750.3 339.8 3749.5 341.0 3747.0C342.2 3744.5 343.3 3739.2 344.0 3735.0C344.7 3730.8 344.8 3724.2 345.0 3722.0"/>
<path class="c" stroke-width="10.5" d="M343.0 3714.0C344.5 3710.6 349.0 3700.4 352.3 3693.8C355.6 3687.2 359.2 3680.8 362.9 3674.6C366.7 3668.3 370.6 3662.2 374.8 3656.2C378.9 3650.2 383.2 3644.3 387.6 3638.5C392.0 3632.7 396.6 3627.1 401.3 3621.5C406.0 3615.9 410.8 3610.4 415.7 3604.9C420.6 3599.5 425.6 3594.1 430.8 3588.8C435.9 3583.5 441.1 3578.2 446.3 3573.1C451.6 3567.9 457.0 3562.8 462.4 3557.7C467.9 3552.7 473.4 3547.8 479.0 3543.0C484.6 3538.1 490.4 3533.4 496.1 3528.8C501.9 3524.2 507.8 3519.7 513.7 3515.3C519.7 3511.0 525.7 3506.8 531.8 3502.7C538.0 3498.6 544.2 3494.7 550.4 3490.9C556.7 3487.2 563.0 3483.6 569.5 3480.0C575.9 3476.5 582.4 3473.1 588.9 3469.8C595.5 3466.5 602.1 3463.2 608.8 3460.0C615.5 3456.9 622.2 3453.8 629.0 3450.9C635.8 3448.0 642.7 3445.2 649.6 3442.6C656.5 3440.1 663.4 3437.6 670.4 3435.3C677.4 3433.0 684.4 3430.9 691.5 3428.9C698.5 3426.8 705.6 3424.9 712.8 3423.1C719.9 3421.3 727.0 3419.7 734.2 3418.1C741.4 3416.5 748.6 3415.0 755.8 3413.6C763.0 3412.2 770.3 3410.9 777.5 3409.6C784.8 3408.3 792.0 3407.2 799.3 3406.0C806.6 3404.9 813.9 3403.8 821.1 3402.8C828.4 3401.7 835.7 3400.8 843.0 3399.8C850.3 3398.9 857.6 3398.0 864.9 3397.2C872.2 3396.4 879.5 3395.6 886.8 3394.9C894.2 3394.2 901.5 3393.5 908.8 3392.9C916.1 3392.2 923.5 3391.7 930.8 3391.1C938.1 3390.6 945.5 3390.0 952.8 3389.6C960.2 3389.1 967.5 3388.7 974.9 3388.3C982.2 3387.9 989.6 3387.5 996.9 3387.2C1004.3 3386.9 1011.7 3386.6 1019.0 3386.3C1026.4 3386.1 1033.8 3385.8 1041.1 3385.6C1048.5 3385.4 1055.9 3385.3 1063.2 3385.1C1070.6 3385.0 1078.0 3384.8 1085.3 3384.7C1092.7 3384.6 1100.1 3384.5 1107.4 3384.5C1114.8 3384.4 1122.2 3384.4 1129.5 3384.4C1136.9 3384.4 1144.3 3384.4 1151.6 3384.4C1159.0 3384.4 1166.4 3384.5 1173.7 3384.6C1181.1 3384.6 1188.5 3384.7 1195.8 3384.8C1203.2 3385.0 1210.6 3385.1 1217.9 3385.3C1225.3 3385.4 1232.7 3385.6 1240.0 3385.8C1247.4 3386.0 1254.8 3386.2 1262.1 3386.4C1269.5 3386.7 1276.8 3387.0 1284.2 3387.2C1291.6 3387.5 1298.9 3387.8 1306.3 3388.1C1313.6 3388.5 1321.0 3388.8 1328.3 3389.2C1335.7 3389.5 1343.0 3389.9 1350.4 3390.3C1357.7 3390.7 1365.1 3391.1 1372.4 3391.6C1379.8 3392.0 1387.1 3392.5 1394.5 3392.9C1401.8 3393.4 1409.2 3393.9 1416.5 3394.4C1423.8 3395.0 1431.2 3395.5 1438.5 3396.2C1445.8 3396.9 1453.1 3397.7 1460.4 3398.6C1467.6 3399.6 1474.9 3400.6 1482.1 3401.9C1489.3 3403.1 1496.5 3404.6 1503.6 3406.3C1510.7 3408.0 1517.8 3409.9 1524.8 3412.1C1531.8 3414.2 1538.8 3416.6 1545.7 3419.1C1552.6 3421.7 1559.5 3424.5 1566.3 3427.4C1573.0 3430.4 1579.7 3433.5 1586.4 3436.9C1593.0 3440.2 1599.5 3443.7 1606.0 3447.3C1612.5 3451.0 1618.9 3454.8 1625.2 3458.7C1631.5 3462.5 1637.7 3466.5 1643.8 3470.6C1650.0 3474.7 1656.1 3478.8 1662.0 3483.1C1668.0 3487.3 1673.9 3491.6 1679.7 3496.0C1685.6 3500.5 1691.3 3505.0 1697.0 3509.7C1702.6 3514.3 1708.2 3519.1 1713.7 3524.0C1719.1 3528.9 1724.5 3533.9 1729.9 3539.0C1735.2 3544.1 1740.4 3549.3 1745.5 3554.6C1750.7 3559.9 1755.7 3565.2 1760.7 3570.7C1765.7 3576.1 1770.5 3581.6 1775.3 3587.1C1780.1 3592.7 1784.8 3598.3 1789.4 3604.0C1794.0 3609.7 1798.6 3615.4 1803.0 3621.3C1807.4 3627.1 1811.8 3633.0 1816.0 3639.0C1820.3 3645.0 1824.4 3651.1 1828.5 3657.2C1832.6 3663.4 1838.4 3672.9 1840.4 3676.0C1841.4 3690.3 1844.9 3739.1 1846.4 3762.0C1847.9 3784.9 1848.6 3795.2 1849.5 3813.4C1850.4 3831.6 1851.4 3853.4 1852.0 3871.0C1852.6 3888.6 1853.1 3911.0 1853.3 3919.0"/>
<path class="c" stroke-width="10.5" d="M345.0 3716.0C346.6 3712.7 351.3 3702.5 354.9 3696.0C358.4 3689.5 362.1 3683.2 366.1 3677.1C370.0 3670.9 374.2 3664.9 378.5 3659.0C382.8 3653.1 387.2 3647.4 391.8 3641.7C396.4 3636.0 401.1 3630.5 405.9 3624.9C410.7 3619.4 415.6 3613.9 420.5 3608.4C425.5 3602.9 430.5 3597.5 435.6 3592.1C440.6 3586.7 445.8 3581.3 451.0 3576.1C456.2 3570.8 461.5 3565.6 466.8 3560.4C472.2 3555.3 477.6 3550.3 483.1 3545.3C488.6 3540.4 494.2 3535.6 499.9 3530.9C505.5 3526.2 511.3 3521.6 517.1 3517.2C523.0 3512.7 528.9 3508.4 534.9 3504.3C541.0 3500.2 547.1 3496.3 553.3 3492.5C559.5 3488.7 565.8 3485.1 572.2 3481.6C578.6 3478.0 585.1 3474.6 591.6 3471.3C598.1 3468.0 604.8 3464.7 611.4 3461.6C618.1 3458.5 624.9 3455.4 631.7 3452.5C638.5 3449.7 645.4 3447.0 652.3 3444.4C659.2 3441.9 666.2 3439.5 673.2 3437.2C680.2 3435.0 687.3 3432.9 694.4 3430.8C701.5 3428.8 708.7 3427.0 715.8 3425.2C723.0 3423.4 730.2 3421.8 737.4 3420.2C744.6 3418.6 751.8 3417.1 759.1 3415.7C766.3 3414.3 773.6 3413.0 780.9 3411.7C788.1 3410.5 795.4 3409.3 802.7 3408.1C810.0 3406.9 817.2 3405.8 824.5 3404.8C831.8 3403.7 839.1 3402.7 846.4 3401.8C853.6 3400.8 860.9 3399.9 868.2 3399.1C875.5 3398.2 882.8 3397.4 890.1 3396.7C897.4 3395.9 904.7 3395.2 912.0 3394.5C919.3 3393.9 926.6 3393.2 933.9 3392.6C941.2 3392.0 948.5 3391.5 955.9 3391.0C963.2 3390.5 970.5 3390.0 977.8 3389.6C985.1 3389.1 992.5 3388.8 999.8 3388.4C1007.1 3388.0 1014.5 3387.7 1021.8 3387.4C1029.2 3387.1 1036.5 3386.9 1043.9 3386.6C1051.2 3386.4 1058.6 3386.2 1065.9 3386.0C1073.3 3385.8 1080.7 3385.7 1088.1 3385.6C1095.4 3385.5 1102.8 3385.4 1110.2 3385.3C1117.6 3385.2 1125.0 3385.2 1132.4 3385.2C1139.8 3385.2 1147.1 3385.2 1154.5 3385.2C1161.9 3385.3 1169.3 3385.4 1176.7 3385.5C1184.1 3385.6 1191.5 3385.7 1198.9 3385.9C1206.3 3386.0 1213.7 3386.2 1221.1 3386.4C1228.5 3386.7 1235.9 3386.9 1243.3 3387.2C1250.6 3387.5 1258.0 3387.8 1265.4 3388.2C1272.7 3388.6 1280.1 3389.0 1287.5 3389.4C1294.8 3389.8 1302.2 3390.3 1309.5 3390.8C1316.8 3391.3 1324.2 3391.8 1331.5 3392.4C1338.8 3393.0 1346.1 3393.6 1353.4 3394.2C1360.7 3394.9 1368.0 3395.6 1375.3 3396.3C1382.5 3397.0 1389.8 3397.8 1397.0 3398.6C1404.2 3399.4 1411.5 3400.3 1418.7 3401.3C1425.8 3402.4 1433.0 3403.5 1440.1 3404.9C1447.2 3406.3 1454.3 3407.9 1461.4 3409.9C1468.4 3411.8 1475.4 3414.1 1482.3 3416.7C1489.2 3419.2 1496.1 3422.2 1502.8 3425.3C1509.6 3428.3 1516.3 3431.7 1523.0 3435.2C1529.6 3438.7 1536.1 3442.4 1542.6 3446.2C1549.0 3449.9 1555.4 3453.8 1561.6 3457.7C1567.9 3461.7 1574.1 3465.8 1580.2 3469.9C1586.2 3474.1 1592.2 3478.3 1598.1 3482.7C1604.0 3487.0 1609.9 3491.5 1615.6 3496.0C1621.3 3500.5 1627.0 3505.2 1632.5 3509.9C1638.1 3514.6 1643.6 3519.5 1648.9 3524.4C1654.3 3529.3 1659.6 3534.3 1664.9 3539.4C1670.1 3544.5 1675.2 3549.7 1680.3 3555.0C1685.4 3560.3 1690.4 3565.6 1695.3 3571.1C1700.2 3576.6 1705.0 3582.1 1709.8 3587.8C1714.5 3593.4 1719.2 3599.1 1723.8 3604.9C1728.4 3610.7 1732.9 3616.6 1737.4 3622.5C1741.9 3628.4 1746.2 3634.4 1750.6 3640.4C1754.9 3646.4 1759.1 3652.4 1763.3 3658.4C1767.5 3664.5 1773.5 3673.5 1775.6 3676.5C1776.0 3681.9 1777.0 3698.6 1777.8 3708.9C1778.6 3719.2 1779.9 3733.6 1780.3 3738.5"/>
<path class="c" stroke-width="10.5" d="M345.0 3724.0C346.6 3720.7 351.0 3710.9 354.4 3704.5C357.9 3698.1 361.8 3691.8 365.9 3685.6C369.9 3679.5 374.3 3673.4 378.7 3667.4C383.1 3661.4 387.8 3655.5 392.4 3649.7C397.0 3643.8 401.6 3638.1 406.3 3632.4C411.0 3626.7 415.7 3621.1 420.5 3615.5C425.3 3610.0 430.1 3604.6 435.1 3599.2C440.1 3593.9 445.3 3588.7 450.5 3583.5C455.8 3578.4 461.1 3573.4 466.6 3568.5C472.1 3563.6 477.7 3558.8 483.4 3554.1C489.2 3549.5 495.0 3544.9 500.9 3540.5C506.8 3536.1 512.9 3531.8 519.0 3527.7C525.1 3523.5 531.3 3519.5 537.6 3515.6C543.9 3511.8 550.2 3508.0 556.7 3504.4C563.1 3500.8 569.6 3497.4 576.2 3494.1C582.7 3490.8 589.4 3487.7 596.1 3484.7C602.8 3481.7 609.5 3478.9 616.3 3476.1C623.1 3473.4 630.0 3470.8 636.9 3468.4C643.8 3465.9 650.8 3463.5 657.8 3461.3C664.8 3459.1 671.8 3457.0 678.9 3455.0C686.0 3453.0 693.1 3451.1 700.2 3449.3C707.4 3447.5 714.6 3445.8 721.8 3444.1C729.0 3442.5 736.2 3441.0 743.4 3439.6C750.7 3438.1 758.0 3436.8 765.3 3435.5C772.5 3434.2 779.8 3433.0 787.2 3431.8C794.5 3430.6 801.8 3429.6 809.1 3428.5C816.4 3427.5 823.8 3426.5 831.1 3425.6C838.4 3424.6 845.8 3423.7 853.1 3422.9C860.4 3422.1 867.7 3421.3 875.1 3420.5C882.4 3419.8 889.7 3419.1 897.1 3418.4C904.4 3417.7 911.7 3417.1 919.0 3416.5C926.4 3415.9 933.7 3415.4 941.0 3414.8C948.4 3414.3 955.7 3413.8 963.0 3413.4C970.4 3413.0 977.7 3412.5 985.0 3412.2C992.4 3411.8 999.7 3411.4 1007.1 3411.1C1014.4 3410.8 1021.7 3410.5 1029.1 3410.3C1036.4 3410.0 1043.8 3409.8 1051.1 3409.6C1058.5 3409.4 1065.8 3409.2 1073.2 3409.0C1080.6 3408.9 1087.9 3408.7 1095.3 3408.6C1102.6 3408.5 1110.0 3408.4 1117.4 3408.4C1124.8 3408.3 1132.1 3408.2 1139.5 3408.2C1146.9 3408.2 1154.3 3408.2 1161.7 3408.2C1169.0 3408.2 1176.4 3408.2 1183.8 3408.2C1191.2 3408.3 1198.6 3408.4 1206.0 3408.4C1213.4 3408.5 1220.8 3408.6 1228.1 3408.7C1235.5 3408.8 1242.9 3409.0 1250.3 3409.1C1257.7 3409.3 1265.1 3409.5 1272.4 3409.6C1279.8 3409.8 1287.2 3410.0 1294.6 3410.3C1301.9 3410.5 1309.3 3410.7 1316.7 3411.0C1324.0 3411.2 1331.4 3411.5 1338.7 3411.8C1346.1 3412.1 1353.4 3412.4 1360.7 3412.8C1368.1 3413.1 1375.4 3413.5 1382.7 3414.0C1390.0 3414.5 1397.4 3415.0 1404.7 3415.7C1412.0 3416.3 1419.2 3417.0 1426.5 3417.9C1433.8 3418.8 1441.1 3419.8 1448.3 3421.0C1455.6 3422.1 1462.8 3423.4 1470.1 3424.8C1477.3 3426.3 1484.5 3427.9 1491.7 3429.6C1498.8 3431.3 1506.0 3433.2 1513.1 3435.2C1520.2 3437.2 1527.3 3439.4 1534.3 3441.6C1541.3 3443.9 1548.3 3446.3 1555.3 3448.9C1562.2 3451.5 1569.1 3454.1 1575.9 3457.0C1582.7 3459.8 1589.5 3462.7 1596.2 3465.8C1602.8 3468.9 1609.5 3472.1 1616.0 3475.5C1622.6 3478.8 1629.0 3482.3 1635.4 3485.9C1641.8 3489.5 1648.1 3493.2 1654.4 3497.0C1660.6 3500.9 1666.8 3504.9 1672.9 3508.9C1679.0 3513.0 1685.0 3517.2 1690.9 3521.5C1696.8 3525.9 1702.7 3530.3 1708.5 3534.8C1714.2 3539.4 1719.9 3544.0 1725.5 3548.8C1731.1 3553.6 1736.6 3558.4 1742.1 3563.4C1747.5 3568.4 1752.9 3573.5 1758.1 3578.7C1763.4 3583.9 1768.6 3589.2 1773.7 3594.5C1778.8 3599.9 1783.8 3605.4 1788.6 3611.1C1793.4 3616.7 1798.1 3622.4 1802.6 3628.3C1807.1 3634.1 1811.4 3640.1 1815.4 3646.3C1819.3 3652.4 1823.1 3658.7 1826.2 3665.2C1829.3 3671.6 1832.7 3681.7 1834.0 3685.0"/>
<rect class="f" x="255.0" y="3283.0" width="1723.0" height="1059.0" stroke-width="6"/>
<text class="t" x="206.2" y="3301.7" text-anchor="end">600</text>
<text class="t" x="206.2" y="3478.1" text-anchor="end">500</text>
<text class="t" x="206.2" y="3654.6" text-anchor="end">400</text>
<text class="t" x="206.2" y="3831.1" text-anchor="end">300</text>
<text class="t" x="206.2" y="4007.6" text-anchor="end">200</text>
<text class="t" x="206.2" y="4184.1" text-anchor="end">100</text>
<text class="t" x="206.2" y="4360.5" text-anchor="end">0</text>
<text class="t" x="256.7" y="4429.6" text-anchor="middle">0</text>
<text class="t" x="543.8" y="4429.6" text-anchor="middle">0.05</text>
<text class="t" x="831.0" y="4429.6" text-anchor="middle">0.1</text>
<text class="t" x="1118.1" y="4429.6" text-anchor="middle">0.15</text>
<text class="t" x="1405.2" y="4429.6" text-anchor="middle">0.2</text>
<text class="t" x="1692.4" y="4429.6" text-anchor="middle">0.25</text>
<text class="t" x="1979.5" y="4429.6" text-anchor="middle">0.3</text>
<text class="b" y="4503.5" style="font-size:76.4px"><tspan x="923.6">Strain </tspan><tspan x="1151.1">(mm/mm)</tspan></text>
<text class="b" transform="translate(85.0 0) rotate(-90)" y="0" style="font-size:77.4px"><tspan x="-4157.3">Tensile </tspan><tspan x="-3906.4">stress </tspan><tspan x="-3705.8">(MPa)</tspan></text>
<text y="4664.3" style="font-size:87px"><tspan x="983.7">(</tspan><tspan x="1011.4" style="font-weight:bold">c</tspan><tspan x="1048.1">)</tspan></text>
</g>
</svg></body></html>
